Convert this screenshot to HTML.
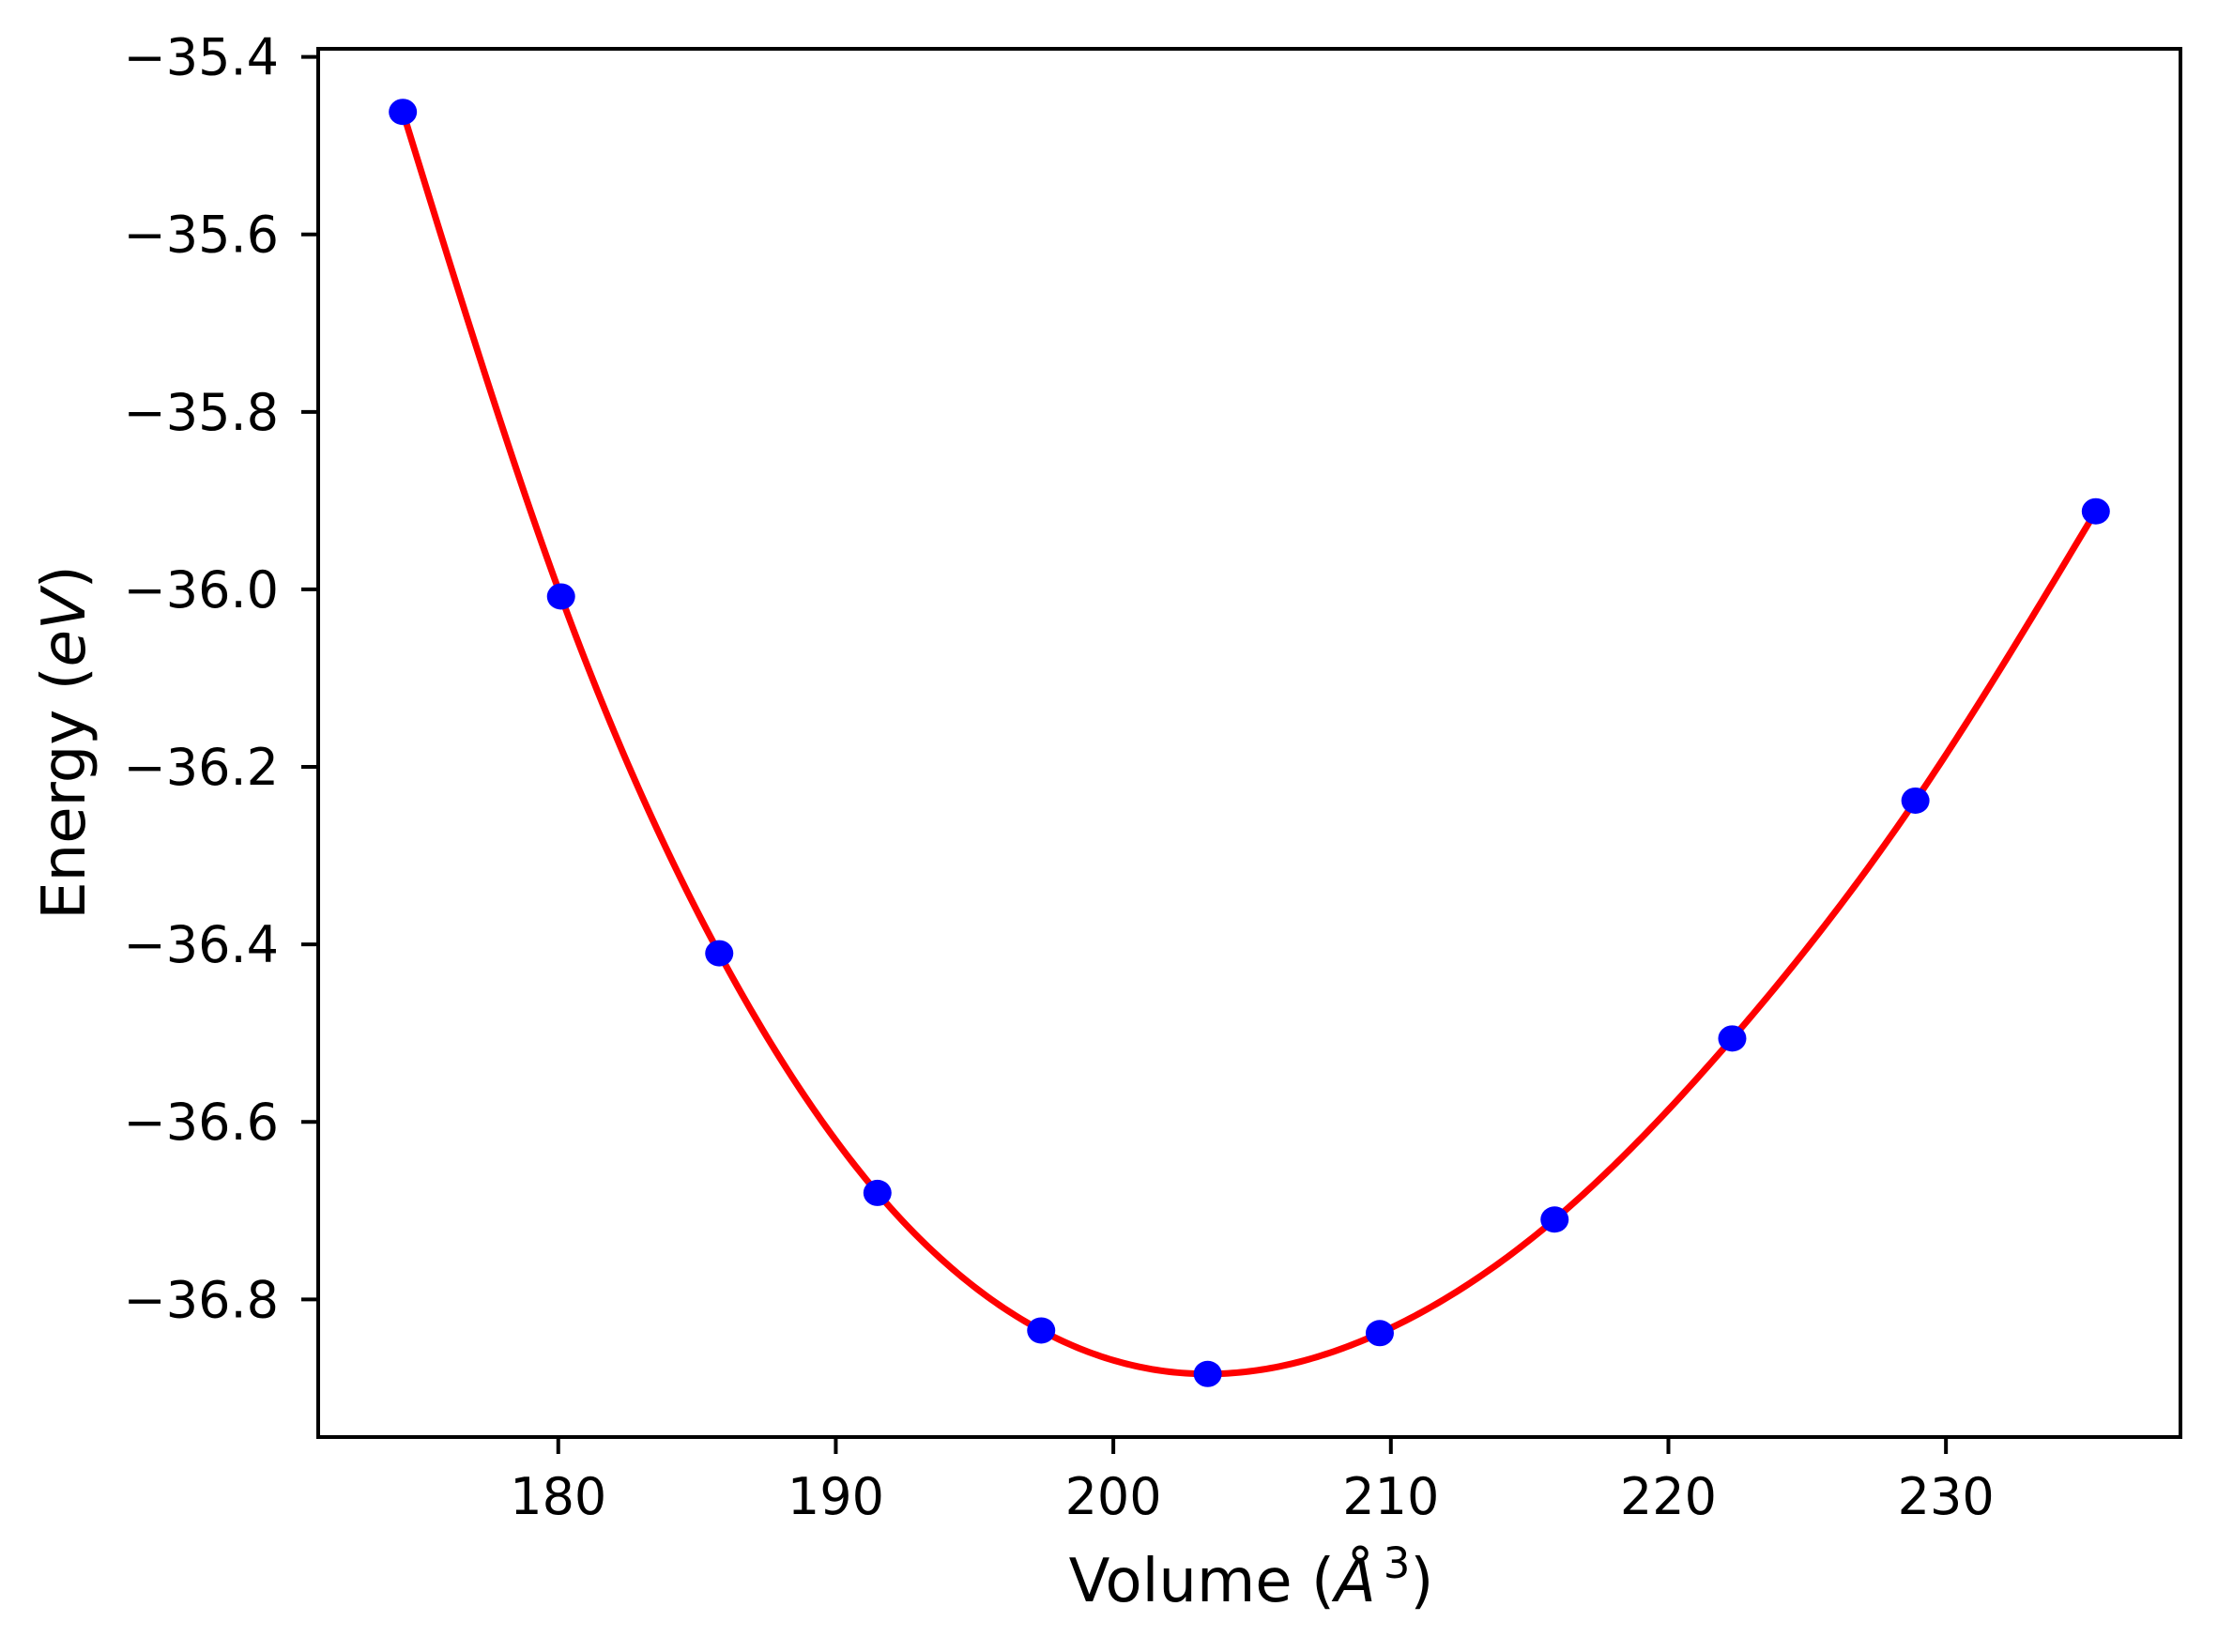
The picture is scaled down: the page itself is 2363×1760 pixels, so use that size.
<!DOCTYPE html>
<html><head><meta charset="utf-8"><style>
html,body{margin:0;padding:0;background:#fff;}
svg{display:block;}
text{font-family:"DejaVu Sans","Liberation Sans",sans-serif;fill:#000;}
</style></head><body>
<svg id="chart" width="2363" height="1760" viewBox="0 0 2363 1760" xmlns="http://www.w3.org/2000/svg">
<rect width="2363" height="1760" fill="#fff"/>
<g id="plot"></g>
<text x="1333" y="1706" font-size="64" text-anchor="middle">Volume (<tspan font-style="italic">Å</tspan><tspan font-size="45" dx="8" dy="-25">3</tspan><tspan dy="25">)</tspan></text>
<text x="0" y="0" font-size="64" text-anchor="middle" transform="translate(90,791) rotate(-90)">Energy (<tspan font-style="italic">eV</tspan>)</text>
</svg>
<script>
const volumes = [174.4, 180.1, 185.8, 191.5, 197.4, 203.4, 209.6, 215.9, 222.3, 228.9, 235.4];
const energies = [-35.462, -36.008, -36.41, -36.68, -36.835, -36.884, -36.838, -36.71, -36.506, -36.238, -35.912];
const xTicks = [180, 190, 200, 210, 220, 230];
const yTicks = [-35.4, -35.6, -35.8, -36.0, -36.2, -36.4, -36.6, -36.8];
const yTickLabels = ["\u221235.4", "\u221235.6", "\u221235.8", "\u221236.0", "\u221236.2", "\u221236.4", "\u221236.6", "\u221236.8"];

const L = 339, R = 2323, T = 52, B = 1531;
const xmin0 = Math.min(...volumes), xmax0 = Math.max(...volumes);
const ymin0 = Math.min(...energies), ymax0 = Math.max(...energies);
const xm = (xmax0 - xmin0) * 0.05, ym = (ymax0 - ymin0) * 0.05;
const xlo = xmin0 - xm, xhi = xmax0 + xm, ylo = ymin0 - ym, yhi = ymax0 + ym;
function sx(v) { return L + (v - xlo) / (xhi - xlo) * (R - L); }
function sy(v) { return B - (v - ylo) / (yhi - ylo) * (B - T); }

const NS = "http://www.w3.org/2000/svg";
const g = document.getElementById('plot');
function mk(tag, attrs) { const e = document.createElementNS(NS, tag); for (const k in attrs) e.setAttribute(k, attrs[k]); return e; }

function spline(xs, ys) {
  const n = xs.length, h = [], a = [], l = [1], mu = [0], z = [0], c = new Array(n).fill(0), b = [], d = [];
  for (let i = 0; i < n - 1; i++) h.push(xs[i + 1] - xs[i]);
  for (let i = 1; i < n - 1; i++) a[i] = 3 / h[i] * (ys[i + 1] - ys[i]) - 3 / h[i - 1] * (ys[i] - ys[i - 1]);
  for (let i = 1; i < n - 1; i++) { l[i] = 2 * (xs[i + 1] - xs[i - 1]) - h[i - 1] * mu[i - 1]; mu[i] = h[i] / l[i]; z[i] = (a[i] - h[i - 1] * z[i - 1]) / l[i]; }
  for (let j = n - 2; j >= 0; j--) { c[j] = (j < n - 1 && j > 0 ? z[j] : 0) - mu[j] * c[j + 1]; b[j] = (ys[j + 1] - ys[j]) / h[j] - h[j] * (c[j + 1] + 2 * c[j]) / 3; d[j] = (c[j + 1] - c[j]) / (3 * h[j]); }
  return function (x) { let i = 0; while (i < n - 2 && x > xs[i + 1]) i++; const dx = x - xs[i]; return ys[i] + b[i] * dx + c[i] * dx * dx + d[i] * dx * dx * dx; };
}
const f = spline(volumes, energies);
let pts = [];
for (let k = 0; k <= 400; k++) { const v = xmin0 + (xmax0 - xmin0) * k / 400; pts.push(sx(v).toFixed(2) + ',' + sy(f(v)).toFixed(2)); }
const line = mk('polyline', { points: pts.join(' '), fill: 'none', stroke: '#ff0000', 'stroke-width': 7, 'stroke-linejoin': 'round' });


g.appendChild(line);

volumes.forEach((v, i) => {
  const c = mk('ellipse', { cx: sx(v), cy: sy(energies[i]), rx: 15, ry: 14, fill: '#0000ff' });
  
  
  g.appendChild(c);
});

const frame = mk('rect', { x: L, y: T, width: R - L, height: B - T, fill: 'none', stroke: '#000', 'stroke-width': 4 });


g.appendChild(frame);

xTicks.forEach(t => {
  const x = sx(t);
  const tk = mk('line', { x1: x, x2: x, y1: B, y2: B + 18, stroke: '#000', 'stroke-width': 4 });
  
  
  g.appendChild(tk);
  const tx = mk('text', { x: x, y: 1613, 'font-size': 54, 'text-anchor': 'middle' });
  tx.textContent = String(t);
  
  
  g.appendChild(tx);
});
yTicks.forEach((t, i) => {
  const y = sy(t);
  const tk = mk('line', { x1: L - 18, x2: L, y1: y, y2: y, stroke: '#000', 'stroke-width': 4 });
  
  
  g.appendChild(tk);
  const tx = mk('text', { x: 297, y: y + 19, 'font-size': 54, 'text-anchor': 'end' });
  tx.textContent = yTickLabels[i];
  
  
  g.appendChild(tx);
});
</script>
</body></html>
